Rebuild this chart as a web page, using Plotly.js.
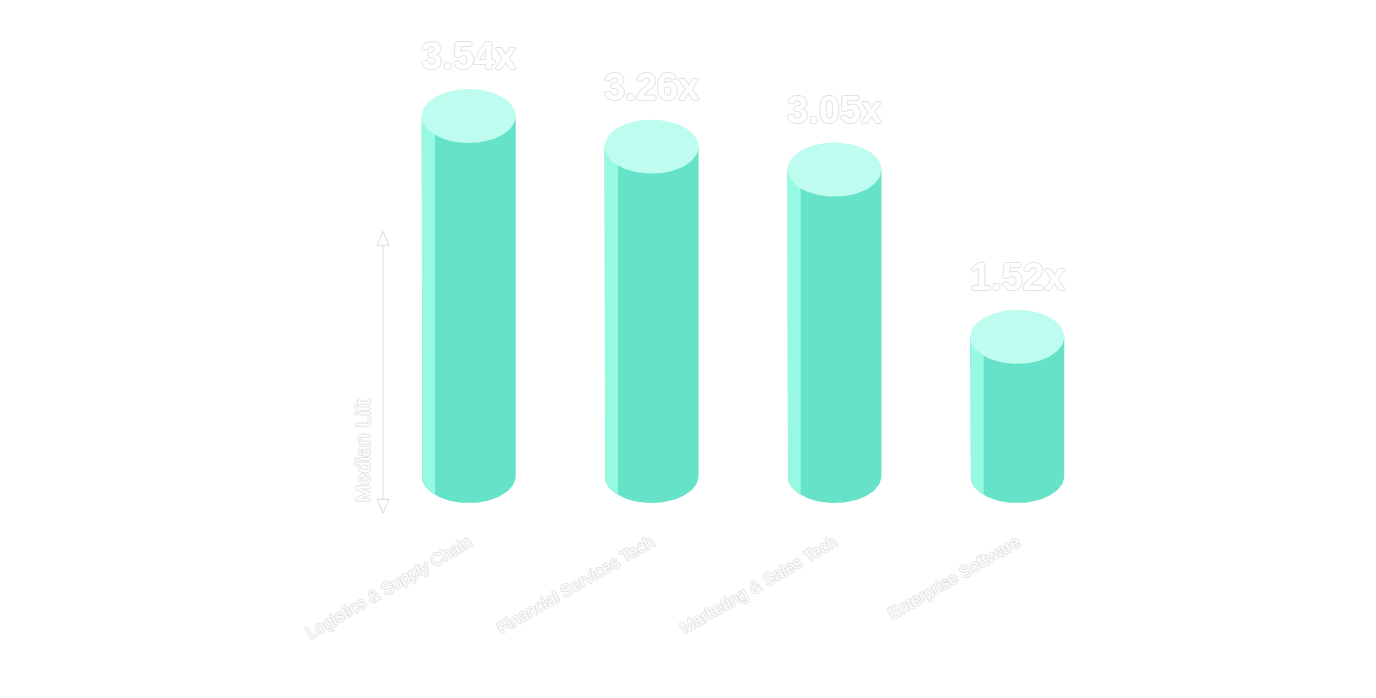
<!DOCTYPE html>
<html>
<head>
<meta charset="utf-8">
<script src="https://cdn.plot.ly/plotly-3.0.1.min.js"></script>
<style>html,body{margin:0;padding:0;background:#fff;}#chart{width:1376px;height:698px;}</style>
</head>
<body>
<div id="chart"></div>
<script>
const categories = ['Logistics & Supply Chain', 'Financial Services Tech', 'Marketing & Sales Tech', 'Enterprise Software'];
const lift = [3.54, 3.26, 3.05, 1.52];
const liftLabels = ['3.54x', '3.26x', '3.05x', '1.52x'];
const yAxisLabel = 'Median Lift';

// cylinder geometry (in axis units)
const RX = 0.257, RY = 0.247, STRIP = 0.073, N = 60;
const BODY = '#66E2C8', SIDE = '#97F9E2', TOP = '#BEFCEF';
const OC = '#e2e2e2';
const OUTLINE = `-1px 0 0 ${OC}, 1px 0 0 ${OC}, 0 -1px 0 ${OC}, 0 1px 0 ${OC}`;

const traces = [];
categories.forEach((c, i) => {
  const v = lift[i];
  const bx = [i - RX], by = [v];
  for (let k = 0; k <= N; k++) {
    const t = Math.PI + Math.PI * k / N;
    bx.push(i + RX * Math.cos(t)); by.push(RY + RY * Math.sin(t));
  }
  bx.push(i + RX); by.push(v);
  traces.push({x: bx, y: by, mode: 'lines', fill: 'toself', fillcolor: BODY, line: {width: 0}, hoverinfo: 'skip', showlegend: false});
  const sx = [i - RX], sy = [v];
  for (let k = 0; k <= 20; k++) {
    const xx = -RX + STRIP * k / 20;
    const r = Math.max(0, 1 - (xx / RX) * (xx / RX));
    sx.push(i + xx); sy.push(RY - RY * Math.sqrt(r));
  }
  sx.push(i - RX + STRIP); sy.push(v);
  traces.push({x: sx, y: sy, mode: 'lines', fill: 'toself', fillcolor: SIDE, line: {width: 0}, hoverinfo: 'skip', showlegend: false});
  const tx = [], ty = [];
  for (let k = 0; k <= 2 * N; k++) {
    const t = 2 * Math.PI * k / (2 * N);
    tx.push(i + RX * Math.cos(t)); ty.push(v + RY * Math.sin(t));
  }
  traces.push({x: tx, y: ty, mode: 'lines', fill: 'toself', fillcolor: TOP, line: {width: 0}, hoverinfo: 'skip', showlegend: false});
});

const annotations = lift.map((v, i) => ({
  x: i, y: v, xref: 'x', yref: 'y', text: liftLabels[i], showarrow: false,
  yanchor: 'middle', yshift: 60,
  font: {family: 'Liberation Sans, Arial, sans-serif', size: 38, weight: 'bold', color: '#ffffff', shadow: OUTLINE}
}));
annotations.push({
  xref: 'paper', yref: 'paper', x: 0.004, y: -0.0035, xanchor: 'center', yanchor: 'bottom',
  text: yAxisLabel, textangle: -90, showarrow: false,
  font: {family: 'Liberation Sans, Arial, sans-serif', size: 21, color: '#ffffff', shadow: OUTLINE}
});

const shapes = [{
  type: 'path', xref: 'paper', yref: 'paper', xsizemode: 'pixel', ysizemode: 'pixel',
  xanchor: 0.03125, yanchor: 0.2718,
  path: 'M0,-127 L0,127 M-6,127 L0,141 L6,127 Z M-6,-127 L0,-141 L6,-127 Z',
  line: {color: '#dcdcdc', width: 1}, fillcolor: 'rgba(255,255,255,0)'
}];

const layout = {
  width: 1376, height: 698,
  paper_bgcolor: '#ffffff', plot_bgcolor: '#ffffff',
  margin: {l: 359, r: 249, t: 22, b: 195},
  showlegend: false, hovermode: false,
  xaxis: {
    range: [-0.6, 3.6], tickvals: categories.map((_, i) => i), ticktext: categories,
    tickangle: -30, showgrid: false, zeroline: false, showline: false,
    ticks: 'outside', ticklen: 22, tickcolor: 'rgba(0,0,0,0)',
    tickfont: {family: 'Liberation Sans, Arial, sans-serif', size: 17, color: '#ffffff', shadow: OUTLINE}
  },
  yaxis: {range: [0, 4.4], visible: false, showgrid: false, zeroline: false},
  annotations: annotations,
  shapes: shapes
};

Plotly.newPlot('chart', traces, layout, {displayModeBar: false, staticPlot: true});
</script>
</body>
</html>
